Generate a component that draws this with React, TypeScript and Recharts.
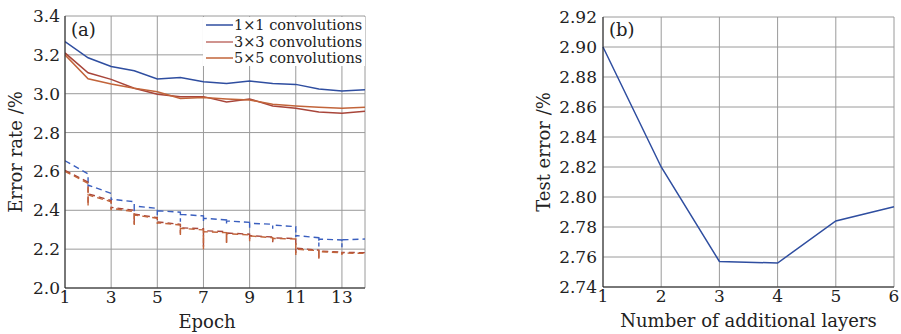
import React from "react";
import { LineChart, Line, XAxis, YAxis, CartesianGrid, Label } from "recharts";

// (a) test error per epoch, solid lines
const epochs = [1, 2, 3, 4, 5, 6, 7, 8, 9, 10, 11, 12, 13, 14];
const test1x1 = [3.268, 3.185, 3.14, 3.118, 3.076, 3.083, 3.062, 3.053, 3.065, 3.053, 3.048, 3.024, 3.014, 3.021];
const test3x3 = [3.21, 3.108, 3.074, 3.028, 2.997, 2.985, 2.985, 2.957, 2.973, 2.937, 2.925, 2.906, 2.899, 2.91];
const test5x5 = [3.2, 3.077, 3.05, 3.028, 3.01, 2.976, 2.98, 2.973, 2.968, 2.946, 2.937, 2.93, 2.925, 2.93];

// (a) training error, dashed lines: value just before each epoch boundary, the dip, and the value after it
const boundaries = [2, 3, 4, 5, 6, 7, 8, 9, 10, 11, 12, 13];
const train1x1Start = 2.655;
const train1x1End = 2.252;
const train1x1Before = [2.587, 2.487, 2.444, 2.41, 2.39, 2.371, 2.35, 2.338, 2.328, 2.316, 2.259, 2.247];
const train1x1Dip = [2.52, 2.45, 2.388, 2.375, 2.341, 2.34, 2.33, 2.31, 2.305, 2.262, 2.213, 2.21];
const train1x1After = [2.53, 2.457, 2.422, 2.398, 2.379, 2.359, 2.345, 2.333, 2.324, 2.27, 2.252, 2.248];

const train3x3Start = 2.605;
const train3x3End = 2.182;
const train3x3Before = [2.545, 2.45, 2.4, 2.362, 2.328, 2.305, 2.29, 2.277, 2.262, 2.255, 2.195, 2.185];
const train3x3Dip = [2.43, 2.405, 2.33, 2.335, 2.28, 2.21, 2.235, 2.245, 2.235, 2.18, 2.155, 2.175];
const train3x3After = [2.485, 2.415, 2.38, 2.34, 2.31, 2.295, 2.283, 2.27, 2.258, 2.205, 2.19, 2.183];

const train5x5Start = 2.6;
const train5x5End = 2.178;
const train5x5Before = [2.539, 2.444, 2.393, 2.359, 2.324, 2.299, 2.285, 2.273, 2.259, 2.252, 2.192, 2.182];
const train5x5Dip = [2.42, 2.4, 2.324, 2.33, 2.273, 2.2, 2.232, 2.24, 2.23, 2.17, 2.148, 2.17];
const train5x5After = [2.479, 2.41, 2.376, 2.336, 2.307, 2.29, 2.28, 2.268, 2.255, 2.2, 2.187, 2.18];

const epochTicks = [1, 3, 5, 7, 9, 11, 13];
const errorTicks = [2.0, 2.2, 2.4, 2.6, 2.8, 3.0, 3.2, 3.4];

// (b) test error vs additional layers
const layers = [1, 2, 3, 4, 5, 6];
const layerError = [2.9, 2.82, 2.757, 2.756, 2.784, 2.7935];
const layerErrorTicks = [2.74, 2.76, 2.78, 2.8, 2.82, 2.84, 2.86, 2.88, 2.9, 2.92];

const BLUE = "#2f4ea0";
const RED = "#a8453a";
const ORANGE = "#c2643a";
const FONT = "DejaVu Serif";
const GRID = "#9a9a9a";

const legendItems = [
  { name: "1×1 convolutions", color: BLUE },
  { name: "3×3 convolutions", color: "#c0706a" },
  { name: "5×5 convolutions", color: ORANGE },
];

const toPoints = (xs: number[], ys: number[]) => xs.map((x, i) => ({ x, y: ys[i] }));

const buildTrain = (start: number, before: number[], dip: number[], after: number[], end: number) => {
  const pts = [{ x: 1, y: start }];
  boundaries.forEach((e, i) => {
    pts.push({ x: e, y: before[i] }, { x: e, y: dip[i] }, { x: e, y: after[i] });
  });
  pts.push({ x: 14, y: end });
  return pts;
};

const tickStyle = { fill: "#222", fontSize: 17, fontFamily: FONT };

const RotatedLabel = ({ viewBox, value, x }: any) => {
  const cy = viewBox.y + viewBox.height / 2;
  return (
    <text
      x={x}
      y={cy}
      transform={`rotate(-90 ${x} ${cy})`}
      textAnchor="middle"
      dominantBaseline="central"
      fontFamily={FONT}
      fontSize={18}
      fill="#222"
    >
      {value}
    </text>
  );
};

export default function App() {
  return (
    <div style={{ position: "absolute", left: 0, top: 0, width: 901, height: 334, background: "#fff" }}>
      <div style={{ position: "absolute", left: 0, top: 0 }}>
        <LineChart width={380} height={334} margin={{ top: 16, right: 15, bottom: 0, left: 0 }}>
          <CartesianGrid stroke={GRID} strokeWidth={1} />
          <XAxis
            type="number"
            dataKey="x"
            domain={[1, 14]}
            ticks={epochTicks}
            allowDataOverflow
            height={46}
            tickLine={false}
            tickSize={1}
            axisLine={{ stroke: "#222" }}
            tick={tickStyle}
          >
            <Label value="Epoch" position="insideBottom" offset={6} dx={-8} style={{ fontFamily: FONT, fontSize: 18, fill: "#222" }} />
          </XAxis>
          <YAxis
            type="number"
            domain={[2.0, 3.4]}
            ticks={errorTicks}
            allowDataOverflow
            width={65}
            tickLine={false}
            tickSize={3}
            axisLine={{ stroke: "#222" }}
            tick={tickStyle}
            tickFormatter={(v: number) => v.toFixed(1)}
          >
            <Label value="Error rate /%" content={(p: any) => <RotatedLabel {...p} x={15} />} />
          </YAxis>
          <Line data={buildTrain(train1x1Start, train1x1Before, train1x1Dip, train1x1After, train1x1End)} dataKey="y" stroke="#3a5fbf" strokeWidth={1.4} strokeDasharray="6 4" dot={false} isAnimationActive={false} />
          <Line data={buildTrain(train3x3Start, train3x3Before, train3x3Dip, train3x3After, train3x3End)} dataKey="y" stroke={RED} strokeWidth={1.4} strokeDasharray="6 4" dot={false} isAnimationActive={false} />
          <Line data={buildTrain(train5x5Start, train5x5Before, train5x5Dip, train5x5After, train5x5End)} dataKey="y" stroke={ORANGE} strokeWidth={1.4} strokeDasharray="6 4" dot={false} isAnimationActive={false} />
          <Line data={toPoints(epochs, test1x1)} dataKey="y" stroke={BLUE} strokeWidth={1.5} dot={false} isAnimationActive={false} />
          <Line data={toPoints(epochs, test3x3)} dataKey="y" stroke={RED} strokeWidth={1.5} dot={false} isAnimationActive={false} />
          <Line data={toPoints(epochs, test5x5)} dataKey="y" stroke={ORANGE} strokeWidth={1.5} dot={false} isAnimationActive={false} />
        </LineChart>
      </div>

      {/* legend of (a), white box over the grid */}
      <div style={{ position: "absolute", left: 203, top: 17, width: 162, height: 49, background: "#fff", fontFamily: FONT, fontSize: 14.5, color: "#222" }}>
        {legendItems.map((it) => (
          <div key={it.name} style={{ display: "flex", alignItems: "center", height: 16.5, whiteSpace: "nowrap" }}>
            <svg width={28} height={10} style={{ marginLeft: 3, flexShrink: 0 }}>
              <line x1={0} y1={5} x2={27} y2={5} stroke={it.color} strokeWidth={1.5} />
            </svg>
            <span>{it.name}</span>
          </div>
        ))}
      </div>
      <div style={{ position: "absolute", left: 71, top: 19, fontFamily: FONT, fontSize: 18, color: "#222" }}>(a)</div>

      <div style={{ position: "absolute", left: 520, top: 0 }}>
        <LineChart width={381} height={334} margin={{ top: 17, right: 7, bottom: 0, left: 0 }}>
          <CartesianGrid stroke={GRID} strokeWidth={1} />
          <XAxis
            type="number"
            dataKey="x"
            domain={[1, 6]}
            ticks={layers}
            height={47}
            tickLine={false}
            tickSize={1}
            axisLine={{ stroke: "#222" }}
            tick={tickStyle}
          >
            <Label value="Number of additional layers" position="insideBottom" offset={7} style={{ fontFamily: FONT, fontSize: 18, fill: "#222" }} />
          </XAxis>
          <YAxis
            type="number"
            domain={[2.74, 2.92]}
            ticks={layerErrorTicks}
            allowDataOverflow
            width={83}
            tickLine={false}
            tickSize={4}
            axisLine={{ stroke: "#222" }}
            tick={tickStyle}
            tickFormatter={(v: number) => v.toFixed(2)}
          >
            <Label value="Test error /%" content={(p: any) => <RotatedLabel {...p} x={23} />} />
          </YAxis>
          <Line data={toPoints(layers, layerError)} dataKey="y" stroke={BLUE} strokeWidth={1.5} dot={false} isAnimationActive={false} />
        </LineChart>
      </div>
      <div style={{ position: "absolute", left: 609, top: 19, fontFamily: FONT, fontSize: 18, color: "#222" }}>(b)</div>
    </div>
  );
}
